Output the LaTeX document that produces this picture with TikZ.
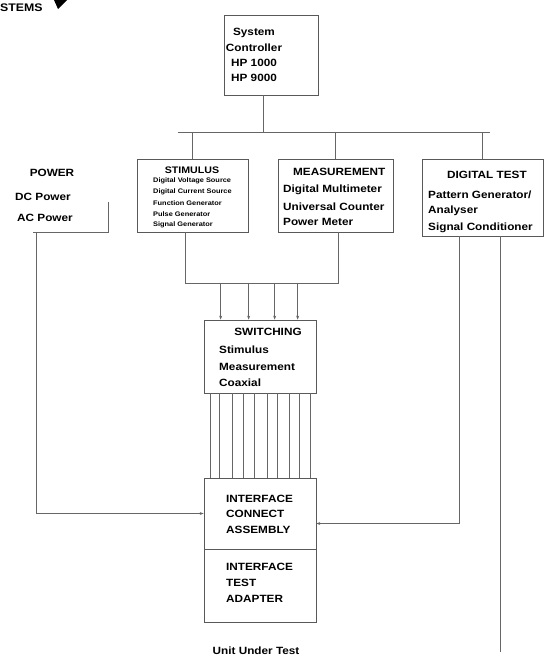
\documentclass[tikz,border=0pt]{standalone}
\usepackage{fontspec}
\setmainfont{Liberation Sans}[FakeStretch=1.12]
\usetikzlibrary{arrows.meta,calc}
\begin{document}
\begin{tikzpicture}[x=1pt,y=-1pt,
  ln/.style={draw=black!60,line width=0.7pt},
  boxs/.style={draw=black!65,line width=0.7pt,inner sep=0pt,rectangle},
  head/.style={font=\bfseries\fontsize{10.5}{12}\selectfont,inner sep=0pt},
  lab/.style={font=\bfseries\fontsize{10.5}{12}\selectfont,inner sep=0pt,anchor=west},
  tinylab/.style={font=\bfseries\fontsize{6.6}{7}\selectfont,inner sep=0pt,anchor=west},
  tip/.style={-{Stealth[length=4pt,width=3pt]}}
]
\useasboundingbox (0,0) rectangle (545,664);

% title fragment
\node[font=\bfseries\fontsize{11}{12}\selectfont,inner sep=0pt,anchor=west] (ttl) at (0,8) {STEMS};
\fill[black] (54,0) -- (67,0) -- (58,9) -- cycle;

% boxes
\node[boxs,minimum width=94pt,minimum height=80pt] (ctl) at (271,55) {};
\node[boxs,minimum width=111pt,minimum height=73pt] (stim) at (192.5,195.5) {};
\node[boxs,minimum width=115pt,minimum height=73pt] (meas) at (335.5,195.5) {};
\node[boxs,minimum width=121pt,minimum height=77pt] (dig) at (482.5,197.5) {};
\node[inner sep=0pt,minimum width=75pt,minimum height=72pt] (pwr) at (70.5,196) {};
\node[boxs,minimum width=112pt,minimum height=73pt] (sw) at (260,356.5) {};
\node[boxs,minimum width=112pt,minimum height=71pt] (ica) at (260,513.5) {};
\node[boxs,minimum width=112pt,minimum height=73pt] (ita) at (260,585.5) {};

% controller text
\node[head] (c1) at (254,33) {System};
\node[head] (c2) at (254,48) {Controller};
\node[head] (c3) at (254,63) {HP 1000};
\node[head] (c4) at (254,78) {HP 9000};

% power
\node[head] (p0) at (52,173) {POWER};
\node[lab] (p1) at (15,197) {DC Power};
\node[lab] (p2) at (17,218) {AC Power};
\draw[ln] ($(pwr.south east)+(0,-30)$) -- (pwr.south east) -- (pwr.south west);

% stimulus
\node[head,font=\bfseries\fontsize{9.5}{11}\selectfont] (s0) at (192,170) {STIMULUS};
\node[tinylab] (s1) at (153,181) {Digital Voltage Source};
\node[tinylab] (s2) at (153,192) {Digital Current Source};
\node[tinylab] (s3) at (153,203) {Function Generator};
\node[tinylab] (s4) at (153,214) {Pulse Generator};
\node[tinylab] (s5) at (153,225) {Signal Generator};

% measurement
\node[lab] (m0) at (293,172) {MEASUREMENT};
\node[lab] (m1) at (283,190) {Digital Multimeter};
\node[lab] (m2) at (283,207) {Universal Counter};
\node[lab] (m3) at (283,222) {Power Meter};

% digital test
\node[lab] (d0) at (447,175) {DIGITAL TEST};
\node[lab] (d1) at (428,195) {Pattern Generator/};
\node[lab] (d2) at (428,211) {Analyser};
\node[lab] (d3) at (428,228) {Signal Conditioner};

% switching
\node[head] (w0) at (268,332) {SWITCHING};
\node[lab] (w1) at (219,350) {Stimulus};
\node[lab] (w2) at (219,367) {Measurement};
\node[lab] (w3) at (219,383) {Coaxial};

% interface connect assembly
\node[lab] (i1) at (226,499) {INTERFACE};
\node[lab] (i2) at (226,514) {CONNECT};
\node[lab] (i3) at (226,530) {ASSEMBLY};

% interface test adapter
\node[lab] (a1) at (226,567) {INTERFACE};
\node[lab] (a2) at (226,583) {TEST};
\node[lab] (a3) at (226,599) {ADAPTER};

\node[head] (uut) at (256,651) {Unit Under Test};

% bus from controller
\coordinate (busL) at (178,132);
\coordinate (busR) at (490,132);
\draw[ln] ($(ctl.south)+(-8,0)$) -- ($(ctl.south)+(-8,37)$);
\draw[ln] (busL) -- (busR);
\draw[ln] (stim.north |- busL) -- (stim.north);
\draw[ln] (meas.north |- busL) -- (meas.north);
\draw[ln] (dig.north |- busL) -- (dig.north);

% stimulus + measurement to switching
\draw[ln] ($(stim.south)+(-7,0)$) |- ($(meas.south)+(2.5,51)$) -- ($(meas.south)+(2.5,0)$);
\foreach \d in {17,45,71,94}
  \draw[ln,tip] ($(sw.north west)+(\d,-37)$) -- ($(sw.north west)+(\d,0)$);

% switching to interface connect assembly
\foreach \d in {7,15.5,29,39.5,51,64,73.5,85.5,96,107}
  \draw[ln] ($(sw.south west)+(\d,0)$) -- ($(ica.north west)+(\d,0)$);

% power to interface
\draw[ln,tip] ($(pwr.south west)+(4,0)$) |- (ica.west);

% digital test to interface and to unit under test
\coordinate (uutR) at (500,652);
\draw[ln,tip] ($(dig.south west)+(38,0)$) |- ($(ica.east)+(0,10)$);
\draw[ln] (dig.south -| uutR) -- (uutR);
\end{tikzpicture}
\end{document}
